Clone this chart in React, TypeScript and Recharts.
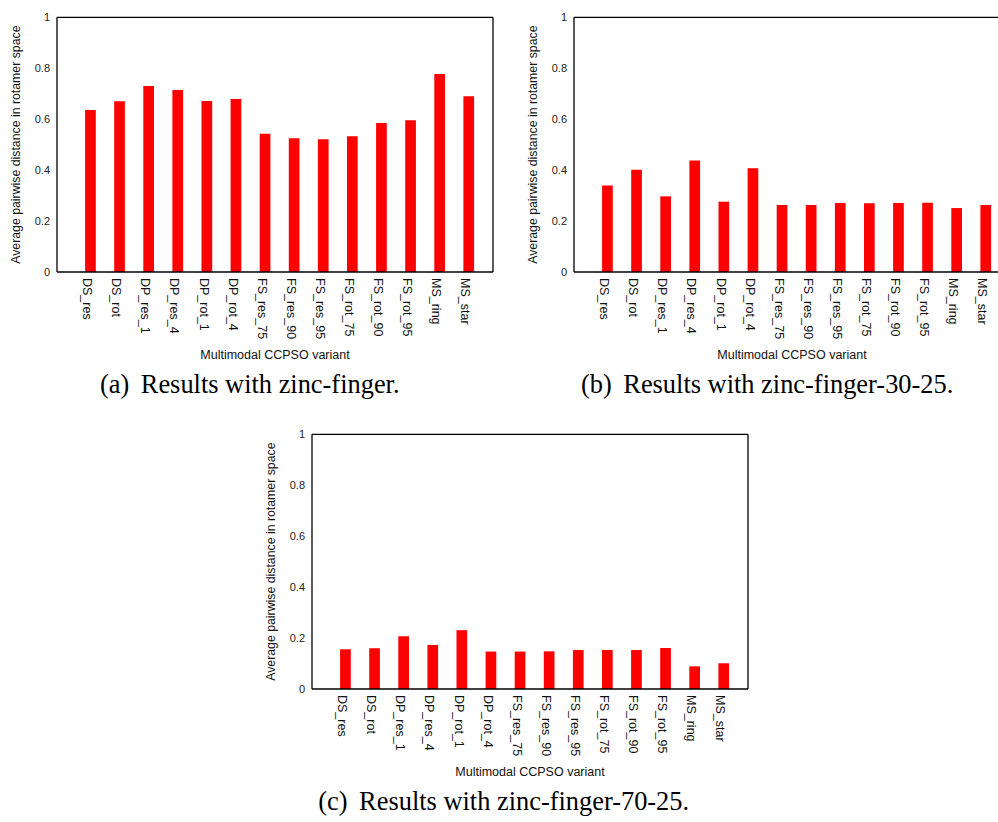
import React from 'react';
import { BarChart, Bar, XAxis, YAxis } from 'recharts';

const categories = ['DS_res', 'DS_rot', 'DP_res_1', 'DP_res_4', 'DP_rot_1', 'DP_rot_4', 'FS_res_75', 'FS_res_90', 'FS_res_95', 'FS_rot_75', 'FS_rot_90', 'FS_rot_95', 'MS_ring', 'MS_star'];
const zincFinger = [0.636, 0.670, 0.730, 0.715, 0.671, 0.679, 0.543, 0.525, 0.521, 0.533, 0.585, 0.596, 0.777, 0.690];
const zincFinger3025 = [0.340, 0.401, 0.297, 0.438, 0.276, 0.407, 0.263, 0.263, 0.271, 0.270, 0.271, 0.272, 0.251, 0.263];
const zincFinger7025 = [0.156, 0.160, 0.207, 0.173, 0.231, 0.147, 0.147, 0.148, 0.153, 0.153, 0.153, 0.161, 0.089, 0.101];
const yTicks = [0, 0.2, 0.4, 0.6, 0.8, 1];
const yTitle = 'Average pairwise distance in rotamer space';
const xTitle = 'Multimodal CCPSO variant';
const captionLabels = ['(a)', '(b)', '(c)'];
const captionTexts = ['Results with zinc-finger.', 'Results with zinc-finger-30-25.', 'Results with zinc-finger-70-25.'];

const SANS = '"Liberation Sans", Arial, sans-serif';
const SERIF = '"Liberation Serif", "Times New Roman", serif';

const XTick = (props: any) => {
  const { x, y, payload } = props;
  return (
    <text
      transform={`translate(${x - 7.5},${y + 6}) rotate(90)`}
      textAnchor="start"
      fontFamily={SANS}
      fontSize={12.5}
      fill="#111"
    >
      {payload.value}
    </text>
  );
};

const YTitleLabel = (props: any) => {
  const vb = props.viewBox || {};
  const cx = vb.x + vb.width - 41;
  const cy = vb.y + vb.height / 2;
  return (
    <text
      transform={`translate(${cx},${cy}) rotate(-90)`}
      textAnchor="middle"
      dominantBaseline="central"
      fontFamily={SANS}
      fontSize={12.3}
      fill="#111"
    >
      {yTitle}
    </text>
  );
};

const XTitleLabel = (props: any) => {
  const vb = props.viewBox || {};
  return (
    <text
      x={vb.x + vb.width / 2}
      y={vb.y + 87.3}
      textAnchor="middle"
      fontFamily={SANS}
      fontSize={12.5}
      fill="#111"
    >
      {xTitle}
    </text>
  );
};

const Panel = ({ values }: { values: number[] }) => {
  const data = categories.map((name, i) => ({ name, value: values[i] }));
  return (
    <BarChart width={500} height={365} data={data} margin={{ top: 16.3, right: 7, bottom: 0, left: 0 }}>
      <XAxis
        dataKey="name"
        type="category"
        height={93}
        padding={{ left: 19.1, right: 9.5 }}
        stroke="#000"
        strokeWidth={1.3}
        axisLine={true}
        tickLine={false}
        tickSize={0}
        tickMargin={0}
        interval={0}
        tick={<XTick />}
        label={<XTitleLabel />}
      />
      <XAxis
        xAxisId="top"
        dataKey="name"
        orientation="top"
        height={1}
        stroke="#000"
        strokeWidth={1.3}
        axisLine={true}
        tickLine={false}
        tick={false}
      />
      <YAxis
        type="number"
        domain={[0, 1]}
        ticks={yTicks}
        width={57}
        stroke="#000"
        strokeWidth={1.3}
        axisLine={true}
        tickLine={false}
        tickSize={0}
        tickMargin={7}
        tick={{ fontFamily: SANS, fontSize: 11, fill: '#222', stroke: 'none' }}
        label={<YTitleLabel />}
      />
      <YAxis
        yAxisId="r"
        orientation="right"
        mirror
        type="number"
        domain={[0, 1]}
        ticks={yTicks}
        width={1}
        stroke="#000"
        strokeWidth={1.3}
        axisLine={true}
        tickLine={true}
        tickSize={4}
        tick={false}
      />
      <Bar dataKey="value" fill="#ff0000" barSize={10.7} isAnimationActive={false} />
    </BarChart>
  );
};

export default function App() {
  return (
    <div style={{ position: 'absolute', left: 0, top: 0, width: 998, height: 822, overflow: 'hidden', background: '#fff' }}>
      <div style={{ position: 'absolute', left: 0, top: 0 }}>
        <Panel values={zincFinger} />
      </div>
      <div style={{ position: 'absolute', left: 517, top: 0 }}>
        <Panel values={zincFinger3025} />
      </div>
      <div style={{ position: 'absolute', left: 254.7, top: 417.4 }}>
        <Panel values={zincFinger7025} />
      </div>
      <svg width={998} height={822} style={{ position: 'absolute', left: 0, top: 0, pointerEvents: 'none' }}>
        <text x={100} y={393.3} fontFamily={SERIF} fontSize={26.4} fill="#000">
          <tspan>{captionLabels[0]}</tspan>
          <tspan dx={11.5}>{captionTexts[0]}</tspan>
        </text>
        <text x={581} y={393.3} fontFamily={SERIF} fontSize={26.4} fill="#000">
          <tspan>{captionLabels[1]}</tspan>
          <tspan dx={11.5}>{captionTexts[1]}</tspan>
        </text>
        <text x={318.3} y={810} fontFamily={SERIF} fontSize={26.4} fill="#000">
          <tspan>{captionLabels[2]}</tspan>
          <tspan dx={11.5}>{captionTexts[2]}</tspan>
        </text>
      </svg>
    </div>
  );
}
